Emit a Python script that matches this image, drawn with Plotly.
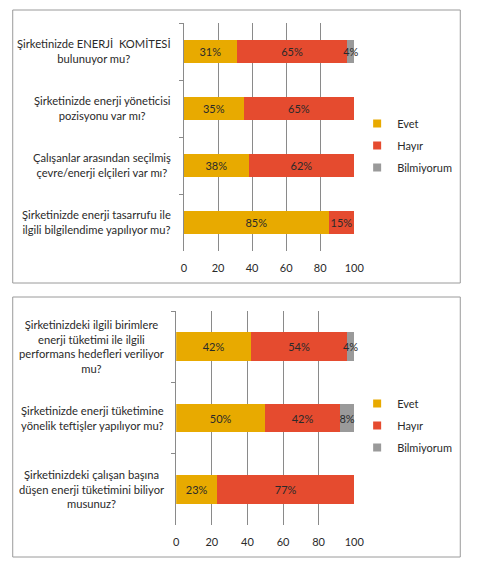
import plotly.graph_objects as go

# ---- data ----
questions1 = [
    "Şirketinizde ENERJİ  KOMİTESİ<br>bulunuyor mu?",
    "Şirketinizde enerji yöneticisi<br>pozisyonu var mı?",
    "Çalışanlar arasından seçilmiş<br>çevre/enerji elçileri var mı?",
    "Şirketinizde enerji tasarrufu ile<br>ilgili bilgilendime yapılıyor mu?",
]
evet1 = [31, 35, 38, 85]
hayir1 = [65, 65, 62, 15]
bilmiyorum1 = [4, 0, 0, 0]

questions2 = [
    "Şirketinizdeki ilgili birimlere<br>enerji tüketimi ile ilgili<br>performans hedefleri veriliyor<br>mu?",
    "Şirketinizde enerji tüketimine<br>yönelik teftişler yapılıyor mu?",
    "Şirketinizdeki çalışan başına<br>düşen enerji tüketimini biliyor<br>musunuz?",
]
evet2 = [42, 50, 23]
hayir2 = [54, 42, 77]
bilmiyorum2 = [4, 8, 0]

series_names = ["Evet", "Hayır", "Bilmiyorum"]
colors = ["#E8AA00", "#E54B2F", "#9A9A9A"]
x_ticks = [0, 20, 40, 60, 80, 100]

W, H = 480, 566
FONT = "Lato"
TXT = "#2a2a2a"


def px_x(p):
    return p / W


def px_y(p):
    return 1 - p / H


fig = go.Figure()

charts = [
    (questions1, [evet1, hayir1, bilmiyorum1], "x", "y", "legend"),
    (questions2, [evet2, hayir2, bilmiyorum2], "x2", "y2", "legend2"),
]

for qs, vals, xa, ya, lg in charts:
    for name, col, v in zip(series_names, colors, vals):
        fig.add_trace(go.Bar(
            y=qs, x=v, orientation="h", name=name, xaxis=xa, yaxis=ya,
            marker=dict(color=col, line=dict(width=0)),
            text=[f"{a}%" if a > 0 else "" for a in v],
            textposition="inside", insidetextanchor="middle", textangle=0,
            textfont=dict(family=FONT, size=11, color=TXT),
            constraintext="none", cliponaxis=False,
            showlegend=False, hoverinfo="skip",
        ))
    for i, (name, col) in enumerate(zip(series_names, colors)):
        fig.add_trace(go.Scatter(
            x=[None], y=[None], mode="markers", name=name, xaxis=xa, yaxis=ya,
            marker=dict(symbol="square", size=8, color=col),
            legend=lg, legendgroup=f"{lg}{i}", showlegend=True,
        ))

axis_common_x = dict(
    range=[0, 100], tickvals=x_ticks, showgrid=True, gridcolor="#8a8a8a",
    gridwidth=1, zeroline=False, showline=False, ticks="",
    ticklabelstandoff=9,
    tickfont=dict(family=FONT, size=11, color=TXT), fixedrange=True,
)
axis_common_y = dict(
    type="category", autorange="reversed", showgrid=False, showline=True,
    linecolor="#8a8a8a", linewidth=1, ticks="outside", tickson="boundaries",
    ticklen=4, tickcolor="#8a8a8a", showticklabels=False, fixedrange=True,
)

shapes = [
    dict(type="rect", xref="paper", yref="paper",
         x0=px_x(10), x1=px_x(470), y0=px_y(283), y1=px_y(10),
         line=dict(color="#9a9a9a", width=1)),
    dict(type="rect", xref="paper", yref="paper",
         x0=px_x(10), x1=px_x(470), y0=px_y(557), y1=px_y(297),
         line=dict(color="#9a9a9a", width=1)),
]

fig.update_layout(
    width=W, height=H, margin=dict(l=0, r=0, t=0, b=0),
    paper_bgcolor="white", plot_bgcolor="white",
    barmode="stack", bargap=0.6,
    uniformtext=dict(minsize=11, mode="show"),
    font=dict(family=FONT, size=11, color=TXT),
    xaxis=dict(domain=[px_x(186), px_x(361)], anchor="y", **axis_common_x),
    yaxis=dict(domain=[px_y(251), px_y(23)], anchor="x", **axis_common_y),
    xaxis2=dict(domain=[px_x(178), px_x(361)], anchor="y2", **axis_common_x),
    yaxis2=dict(domain=[px_y(525), px_y(311)], anchor="x2", **axis_common_y),
    legend=dict(x=px_x(364), y=px_y(109), xanchor="left", yanchor="top",
                font=dict(family=FONT, size=11, color=TXT),
                tracegroupgap=3, itemwidth=30, bgcolor="rgba(0,0,0,0)"),
    legend2=dict(x=px_x(364), y=px_y(389), xanchor="left", yanchor="top",
                 font=dict(family=FONT, size=11, color=TXT),
                 tracegroupgap=3, itemwidth=30, bgcolor="rgba(0,0,0,0)"),
    shapes=shapes,
)

# category labels (right-aligned block, centred lines)
annotations = []
for qs, ya, right in [(questions1, "y", 175), (questions2, "y2", 168)]:
    for q in qs:
        annotations.append(dict(
            x=px_x(right), xref="paper", y=q, yref=ya, text=q,
            xanchor="right", yanchor="middle", align="center", showarrow=False,
            font=dict(family=FONT, size=11.2, color=TXT),
        ))
fig.update_layout(annotations=annotations)

fig.write_html("out.html")
